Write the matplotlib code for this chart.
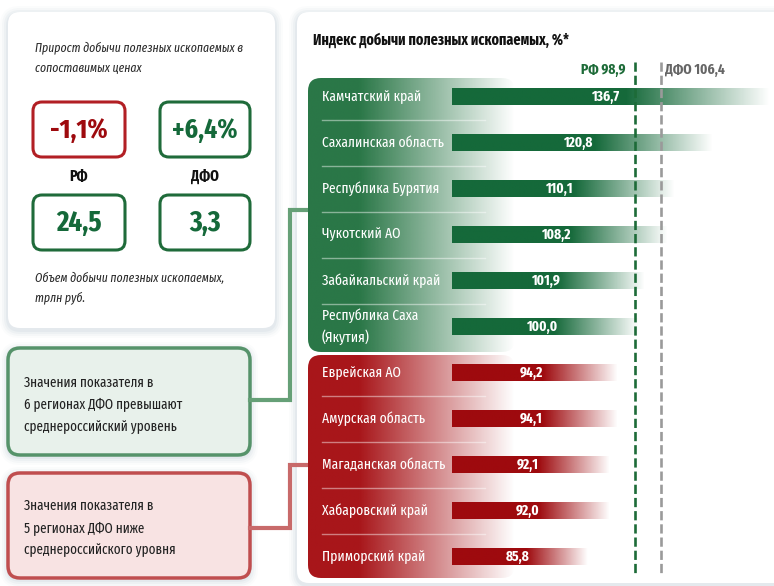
import numpy as np
import matplotlib
matplotlib.use("Agg")
import matplotlib.pyplot as plt
from matplotlib.patches import FancyBboxPatch
from matplotlib import transforms, font_manager
from matplotlib.colors import to_rgb

_names = set(f.name for f in font_manager.fontManager.ttflist)
_cond = [n for n in ["Fira Sans Extra Condensed", "Roboto Condensed",
                     "Fira Sans Condensed"] if n in _names]
FONT = _cond[:1] + ["DejaVu Sans"]
plt.rcParams["font.family"] = FONT

# ---------------- data ----------------
title = "Индекс добычи полезных ископаемых, %*"
regions = ["Камчатский край", "Сахалинская область", "Республика Бурятия",
           "Чукотский АО", "Забайкальский край", "Республика Саха\n(Якутия)",
           "Еврейская АО", "Амурская область", "Магаданская область",
           "Хабаровский край", "Приморский край"]
index_values = [136.7, 120.8, 110.1, 108.2, 101.9, 100.0,
                94.2, 94.1, 92.1, 92.0, 85.8]
rf_index = 98.9
dfo_index = 106.4
groups = ["РФ", "ДФО"]
growth = [-1.1, 6.4]          # прирост, %
volume = [24.5, 3.3]          # трлн руб.
above_count = 6
below_count = 5

GREEN = "#15693a"
RED = "#9e0a0e"
PANEL_GREEN = "#2a7747"
PANEL_RED = "#a8161a"


def fmt(v, sign=False):
    s = f"{v:+.1f}" if sign else f"{v:.1f}"
    return s.replace(".", ",")


W, H = 774, 586
fig = plt.figure(figsize=(W / 100, H / 100), dpi=100)
bg = fig.add_axes([0, 0, 1, 1])
bg.axis("off")


def rbox(x0, y0, x1, y1, r, fc, ec="none", lw=0, z=1, alpha=1.0):
    p = FancyBboxPatch((x0, y0), x1 - x0, y1 - y0,
                       boxstyle=f"round,pad=0,rounding_size={r}",
                       fc=fc, ec=ec, lw=lw, zorder=z, alpha=alpha)
    bg.add_patch(p)
    return p


def card(x0, y0, x1, y1, r=12, fc="white", ec="none", lw=0):
    for k, a in [(8, 0.03), (6, 0.05), (4, 0.07), (2, 0.09)]:
        rbox(x0 - k, y0 - k + 2, x1 + k, y1 + k + 2, r + k, "#8fa3bb", alpha=a, z=0.5)
    return rbox(x0, y0, x1, y1, r, fc, ec=ec, lw=lw, z=1)


# cards
card(8, 12, 275, 328)
card(297, 12, 810, 583)

# ---- left card ----
it = dict(style="italic", fontsize=9.2, color="#2b2b2b", va="center", ha="left")
bg.text(35, 48, "Прирост добычи полезных ископаемых в", **it)
bg.text(35, 68, "сопоставимых ценах", **it)
bg.text(35, 278, "Объем добычи полезных ископаемых,", **it)
bg.text(35, 298, "трлн руб.", **it)

box_x = [(33, 125), (160, 250)]
for k in range(2):
    x0, x1 = box_x[k]
    cx = (x0 + x1) / 2
    col = RED if growth[k] < 0 else GREEN
    ec = "#b21f24" if growth[k] < 0 else "#1f6b3a"
    rbox(x0, 102, x1, 157, 9, "white", ec=ec, lw=2.2, z=2)
    bg.text(cx, 130, fmt(growth[k], sign=True) + "%", color=col, fontsize=20,
            fontweight="bold", ha="center", va="center", zorder=3)
    bg.text(cx, 176, groups[k], fontsize=11, fontweight="bold", color="#111",
            ha="center", va="center")
    rbox(x0, 195, x1, 250, 9, "white", ec="#1f6b3a", lw=2.2, z=2)
    bg.text(cx, 223, fmt(volume[k]), color=GREEN, fontsize=21,
            fontweight="bold", ha="center", va="center", zorder=3)

# ---- bottom-left note boxes ----
card(8, 348, 250, 455, fc="#e8f1eb", ec="#56936a", lw=2.5)
card(8, 473, 250, 578, fc="#f8e3e3", ec="#c04e4f", lw=2.5)
nt = dict(fontsize=10.3, color="#222", va="center", ha="left", zorder=3)
for yy, s in zip([383, 405, 428], ["Значения показателя в",
                                   f"{above_count} регионах ДФО превышают",
                                   "среднероссийский уровень"]):
    bg.text(24, yy, s, **nt)
for yy, s in zip([506, 529, 551], ["Значения показателя в",
                                   f"{below_count} регионах ДФО ниже",
                                   "среднероссийского уровня"]):
    bg.text(24, yy, s, **nt)

# connectors
bg.plot([250, 290, 290, 309], [400, 400, 210, 210], color="#66a077", lw=3,
        solid_joinstyle="miter", zorder=2)
bg.plot([250, 290, 290, 309], [528, 528, 465, 465], color="#c86a6a", lw=3,
        solid_joinstyle="miter", zorder=2)


def grad_panel(x0, y0, x1, y1, color, solid=0.25):
    clip = rbox(x0, y0, x1, y1, 13, "none", z=3)
    t = np.linspace(0, 1, 256)
    a = np.clip(1 - (t - solid) / (1 - solid), 0, 1)
    img = np.zeros((1, 256, 4))
    img[..., :3] = to_rgb(color)
    img[..., 3] = a
    im = bg.imshow(img, extent=(x0, x1, y1, y0), aspect="auto",
                   interpolation="bilinear", zorder=3)
    im.set_clip_path(clip)


grad_panel(308, 78, 515, 352, PANEL_GREEN)
grad_panel(308, 355, 515, 578, PANEL_RED)

bg.text(313, 40, title, fontsize=11, fontweight="bold", color="#111",
        ha="left", va="center")

bg.set_xlim(0, W)
bg.set_ylim(H, 0)

# ---------------- bar axes ----------------
ax = fig.add_axes([0, 0, 1, 1], zorder=2)
ax.patch.set_alpha(0)
ax.axis("off")
x0_px, scale = 280.5, 3.58
xlim = (-x0_px / scale, (W - x0_px) / scale)
ylim = ((H - 96.5) / 46.0, -96.5 / 46.0)

base = 48.0
ypos = np.arange(len(regions))
bars = ax.barh(ypos, [v - base for v in index_values], left=base, height=0.37,
               color="none", lw=0)
t = np.linspace(0, 1, 256)
alpha = np.clip(1 - (t - 0.55) / 0.45, 0, 1)
for i, (rect, v) in enumerate(zip(bars, index_values)):
    col = GREEN if v > rf_index else RED
    img = np.zeros((1, 256, 4))
    img[..., :3] = to_rgb(col)
    img[..., 3] = alpha
    im = ax.imshow(img, extent=(base, v, i + 0.185, i - 0.185), aspect="auto",
                   interpolation="bilinear", zorder=3)
    im.set_clip_path(rect)
    ax.text(base + 0.48 * (v - base), i, fmt(v), color="white", fontsize=10.5,
            fontweight="bold", ha="center", va="center", zorder=4)

lbl_tr = transforms.blended_transform_factory(bg.transData, ax.transData)
for i, name in enumerate(regions):
    ax.text(322, i, name, transform=lbl_tr, color="white", fontsize=10.6,
            ha="left", va="center", linespacing=1.45, zorder=4)
for i in list(range(0, above_count - 1)) + list(range(above_count, len(regions) - 1)):
    ax.plot([322, 485], [i + 0.5, i + 0.5], transform=lbl_tr, color="white",
            alpha=0.45, lw=1, zorder=3.5)

# reference lines
ax.plot([rf_index, rf_index], [-0.75, 10.4], color="#1d6b38", lw=1.9,
        dashes=(3.5, 1.5), zorder=5)
ax.plot([dfo_index, dfo_index], [-0.75, 10.4], color="#9a9a9a", lw=1.9,
        dashes=(3.5, 1.5), zorder=5)
ax.text(rf_index, -0.576, "РФ " + fmt(rf_index), color="#1d6b38", fontsize=10.5,
        fontweight="bold", ha="right", va="center",
        transform=transforms.offset_copy(ax.transData, fig, x=-9, y=0, units="dots"))
ax.text(dfo_index, -0.576, "ДФО " + fmt(dfo_index), color="#666666", fontsize=10.5,
        fontweight="bold", ha="left", va="center",
        transform=transforms.offset_copy(ax.transData, fig, x=4, y=0, units="dots"))

ax.set_xlim(*xlim)
ax.set_ylim(*ylim)

fig.savefig("out.png", dpi=100)
